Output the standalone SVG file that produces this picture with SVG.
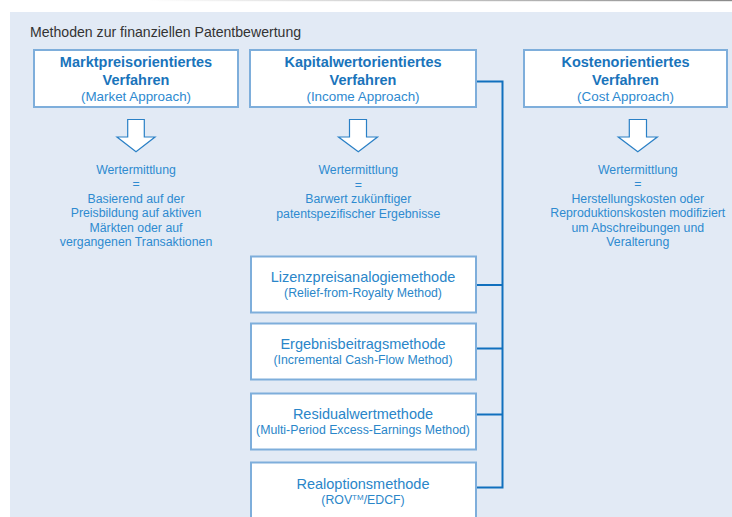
<svg xmlns="http://www.w3.org/2000/svg" width="732" height="517" viewBox="0 0 732 517">
<defs>
<linearGradient id="topline" x1="0" y1="0" x2="1" y2="0">
<stop offset="0" stop-color="#ffffff"/>
<stop offset="0.2" stop-color="#ffffff"/>
<stop offset="1" stop-color="#8a8a8a"/>
</linearGradient>
<style>
.box{fill:#ffffff;stroke:#7eaedb;stroke-width:2}
.arrow{fill:#ffffff;stroke:#2a80c6;stroke-width:1.2;stroke-linejoin:miter}
.hd{font-family:"Liberation Sans",Arial,sans-serif;font-weight:bold;font-size:14.5px;fill:#1a74bb;text-anchor:middle}
.sub{font-family:"Liberation Sans",Arial,sans-serif;font-size:13.4px;fill:#2e8ad0;text-anchor:middle}
.body{font-family:"Liberation Sans",Arial,sans-serif;font-size:12.3px;fill:#2e8ad0;text-anchor:middle}
.mt{font-family:"Liberation Sans",Arial,sans-serif;font-size:14.5px;fill:#2a86c9;text-anchor:middle}
.ms{font-family:"Liberation Sans",Arial,sans-serif;font-size:12.3px;fill:#2a86c9;text-anchor:middle}
.conn{fill:none;stroke:#1170be;stroke-width:2}
</style>
</defs>
<rect x="0" y="0" width="732" height="517" fill="#ffffff"/>
<rect x="0" y="0" width="732" height="1.2" fill="url(#topline)"/>
<rect id="background" x="10" y="12" width="722" height="505" fill="#e2eaf5"/>
<text x="30" y="37" font-family="'Liberation Sans',Arial,sans-serif" font-size="14.1px" fill="#333333">Methoden zur finanziellen Patentbewertung</text>

<g id="connectors">
<polyline class="conn" points="476,81.5 502.5,81.5 502.5,487.5 476,487.5"/>
<line class="conn" x1="476" y1="285" x2="502.5" y2="285"/>
<line class="conn" x1="476" y1="348.5" x2="502.5" y2="348.5"/>
<line class="conn" x1="476" y1="414.5" x2="502.5" y2="414.5"/>
</g>

<g id="market">
<rect class="box" x="34" y="50" width="204" height="57"/>
<text class="hd" x="136" y="66.7">Marktpreisorientiertes</text>
<text class="hd" x="136" y="85">Verfahren</text>
<text class="sub" x="136" y="100.7">(Market Approach)</text>
</g>
<g id="income">
<rect class="box" x="250" y="50" width="226" height="57"/>
<text class="hd" x="363" y="66.7">Kapitalwertorientiertes</text>
<text class="hd" x="363" y="85">Verfahren</text>
<text class="sub" x="363" y="100.7">(Income Approach)</text>
</g>
<g id="cost">
<rect class="box" x="524" y="50" width="203" height="57"/>
<text class="hd" x="625.5" y="66.7">Kostenorientiertes</text>
<text class="hd" x="625.5" y="85">Verfahren</text>
<text class="sub" x="625.5" y="100.7">(Cost Approach)</text>
</g>

<g id="arrow1"><path class="arrow" d="M127.7,119.5 H144.3 V137 H155 L136,151.7 L117,137 H127.7 Z"/></g>
<g id="arrow2"><path class="arrow" d="M349.5,119.5 H366.5 V137 H377.5 L358.3,151.7 L338.5,137 H349.5 Z"/></g>
<g id="arrow3"><path class="arrow" d="M629.3,119.5 H646.5 V137 H657.3 L637.8,151.7 L618.3,137 H629.3 Z"/></g>

<g id="value1">
<text class="body" x="136" y="173.5">Wertermittlung</text>
<text class="body" x="136" y="188">=</text>
<text class="body" x="136" y="202.5">Basierend auf der</text>
<text class="body" x="136" y="217">Preisbildung auf aktiven</text>
<text class="body" x="136" y="231.5">Märkten oder auf</text>
<text class="body" x="136" y="246">vergangenen Transaktionen</text>
</g>
<g id="value2">
<text class="body" x="358.3" y="174">Wertermittlung</text>
<text class="body" x="358.3" y="188.7">=</text>
<text class="body" x="358.3" y="203.3">Barwert zukünftiger</text>
<text class="body" x="358.3" y="218">patentspezifischer Ergebnisse</text>
</g>
<g id="value3">
<text class="body" x="637.8" y="173.5">Wertermittlung</text>
<text class="body" x="637.8" y="188">=</text>
<text class="body" x="637.8" y="202.5">Herstellungskosten oder</text>
<text class="body" x="637.8" y="217">Reproduktionskosten modifiziert</text>
<text class="body" x="637.8" y="231.5">um Abschreibungen und</text>
<text class="body" x="637.8" y="246">Veralterung</text>
</g>

<g id="m1">
<rect class="box" x="251" y="256.5" width="225" height="56"/>
<text class="mt" x="363" y="281.7">Lizenzpreisanalogiemethode</text>
<text class="ms" x="363" y="297.3">(Relief-from-Royalty Method)</text>
</g>
<g id="m2">
<rect class="box" x="251" y="323.5" width="225" height="56"/>
<text class="mt" x="363" y="349.3">Ergebnisbeitragsmethode</text>
<text class="ms" x="363" y="364.3">(Incremental Cash-Flow Method)</text>
</g>
<g id="m3">
<rect class="box" x="251" y="393.5" width="225" height="56"/>
<text class="mt" x="363" y="419">Residualwertmethode</text>
<text class="ms" x="363" y="434">(Multi-Period Excess-Earnings Method)</text>
</g>
<g id="m4">
<rect class="box" x="251" y="462.5" width="225" height="60"/>
<text class="mt" x="363" y="489.3">Realoptionsmethode</text>
<text class="ms" x="363" y="504.3">(ROV<tspan font-size="8px" dy="-4">TM</tspan><tspan dy="4">/EDCF)</tspan></text>
</g>
</svg>
